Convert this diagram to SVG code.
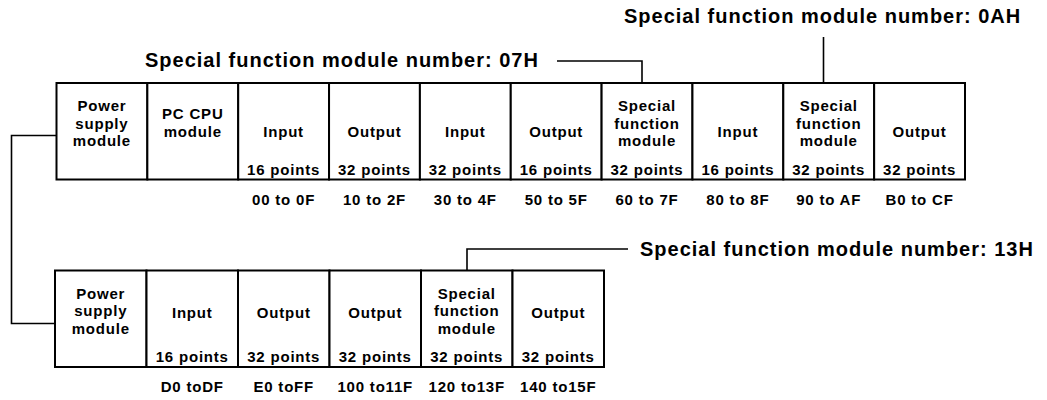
<svg xmlns="http://www.w3.org/2000/svg" width="1047" height="400" viewBox="0 0 1047 400">
<style>
.box{fill:#fff;stroke:#000;stroke-width:2}
.t{font-family:"Liberation Sans",Arial,sans-serif;font-weight:bold;font-size:15px;letter-spacing:0.8px;text-anchor:middle;fill:#000}
.title{font-family:"Liberation Sans",Arial,sans-serif;font-weight:bold;font-size:20px;letter-spacing:1px;fill:#000}
.ln{fill:none;stroke:#000;stroke-width:1.6}
</style>
<rect width="1047" height="400" fill="#fff"/>
<g id="connectors">
<path class="ln" d="M557,61 H642 V83"/>
<path class="ln" d="M823.5,37 V83"/>
<path class="ln" d="M467,270 V249 H628"/>
<path class="ln" d="M56.5,135.5 H11.5 V323.5 H55"/>
</g>
<g id="labels">
<text class="title" x="145" y="67">Special function module number: 07H</text>
<text class="title" x="624" y="23">Special function module number: 0AH</text>
<text class="title" x="640" y="256">Special function module number: 13H</text>
</g>
<g id="row1">
<g id="r1n1"><rect class="box" x="56.5" y="83" width="90.85" height="96.5"/>
<text class="t" x="101.9" y="111">Power</text><text class="t" x="101.9" y="128.5">supply</text><text class="t" x="101.9" y="146">module</text></g>
<g id="r1n2"><rect class="box" x="147.35" y="83" width="90.85" height="96.5"/>
<text class="t" x="192.8" y="119">PC CPU</text><text class="t" x="192.8" y="137">module</text></g>
<g id="r1n3"><rect class="box" x="238.2" y="83" width="90.85" height="96.5"/>
<text class="t" x="283.6" y="137">Input</text><text class="t" x="283.6" y="174.5">16 points</text><text class="t" x="283.6" y="205">00 to 0F</text></g>
<g id="r1n4"><rect class="box" x="329.05" y="83" width="90.85" height="96.5"/>
<text class="t" x="374.5" y="137">Output</text><text class="t" x="374.5" y="174.5">32 points</text><text class="t" x="374.5" y="205">10 to 2F</text></g>
<g id="r1n5"><rect class="box" x="419.9" y="83" width="90.85" height="96.5"/>
<text class="t" x="465.3" y="137">Input</text><text class="t" x="465.3" y="174.5">32 points</text><text class="t" x="465.3" y="205">30 to 4F</text></g>
<g id="r1n6"><rect class="box" x="510.75" y="83" width="90.85" height="96.5"/>
<text class="t" x="556.2" y="137">Output</text><text class="t" x="556.2" y="174.5">16 points</text><text class="t" x="556.2" y="205">50 to 5F</text></g>
<g id="r1n7"><rect class="box" x="601.6" y="83" width="90.85" height="96.5"/>
<text class="t" x="647" y="111">Special</text><text class="t" x="647" y="128.5">function</text><text class="t" x="647" y="146">module</text><text class="t" x="647" y="174.5">32 points</text><text class="t" x="647" y="205">60 to 7F</text></g>
<g id="r1n8"><rect class="box" x="692.45" y="83" width="90.85" height="96.5"/>
<text class="t" x="737.9" y="137">Input</text><text class="t" x="737.9" y="174.5">16 points</text><text class="t" x="737.9" y="205">80 to 8F</text></g>
<g id="r1n9"><rect class="box" x="783.3" y="83" width="90.85" height="96.5"/>
<text class="t" x="828.7" y="111">Special</text><text class="t" x="828.7" y="128.5">function</text><text class="t" x="828.7" y="146">module</text><text class="t" x="828.7" y="174.5">32 points</text><text class="t" x="828.7" y="205">90 to AF</text></g>
<g id="r1n10"><rect class="box" x="874.15" y="83" width="90.85" height="96.5"/>
<text class="t" x="919.6" y="137">Output</text><text class="t" x="919.6" y="174.5">32 points</text><text class="t" x="919.6" y="205">B0 to CF</text></g>
</g>
<g id="row2">
<g id="r2n1"><rect class="box" x="55" y="270.5" width="91.5" height="96.5"/>
<text class="t" x="100.75" y="299">Power</text><text class="t" x="100.75" y="316">supply</text><text class="t" x="100.75" y="333.5">module</text></g>
<g id="r2n2"><rect class="box" x="146.5" y="270.5" width="91.5" height="96.5"/>
<text class="t" x="192.25" y="318">Input</text><text class="t" x="192.25" y="361.5">16 points</text><text class="t" x="192.25" y="391.5">D0 toDF</text></g>
<g id="r2n3"><rect class="box" x="238" y="270.5" width="91.5" height="96.5"/>
<text class="t" x="283.75" y="318">Output</text><text class="t" x="283.75" y="361.5">32 points</text><text class="t" x="283.75" y="391.5">E0 toFF</text></g>
<g id="r2n4"><rect class="box" x="329.5" y="270.5" width="91.5" height="96.5"/>
<text class="t" x="375.25" y="318">Output</text><text class="t" x="375.25" y="361.5">32 points</text><text class="t" x="375.25" y="391.5">100 to11F</text></g>
<g id="r2n5"><rect class="box" x="421" y="270.5" width="91.5" height="96.5"/>
<text class="t" x="466.75" y="299">Special</text><text class="t" x="466.75" y="316">function</text><text class="t" x="466.75" y="333.5">module</text><text class="t" x="466.75" y="361.5">32 points</text><text class="t" x="466.75" y="391.5">120 to13F</text></g>
<g id="r2n6"><rect class="box" x="512.5" y="270.5" width="91.5" height="96.5"/>
<text class="t" x="558.25" y="318">Output</text><text class="t" x="558.25" y="361.5">32 points</text><text class="t" x="558.25" y="391.5">140 to15F</text></g>
</g>
</svg>
